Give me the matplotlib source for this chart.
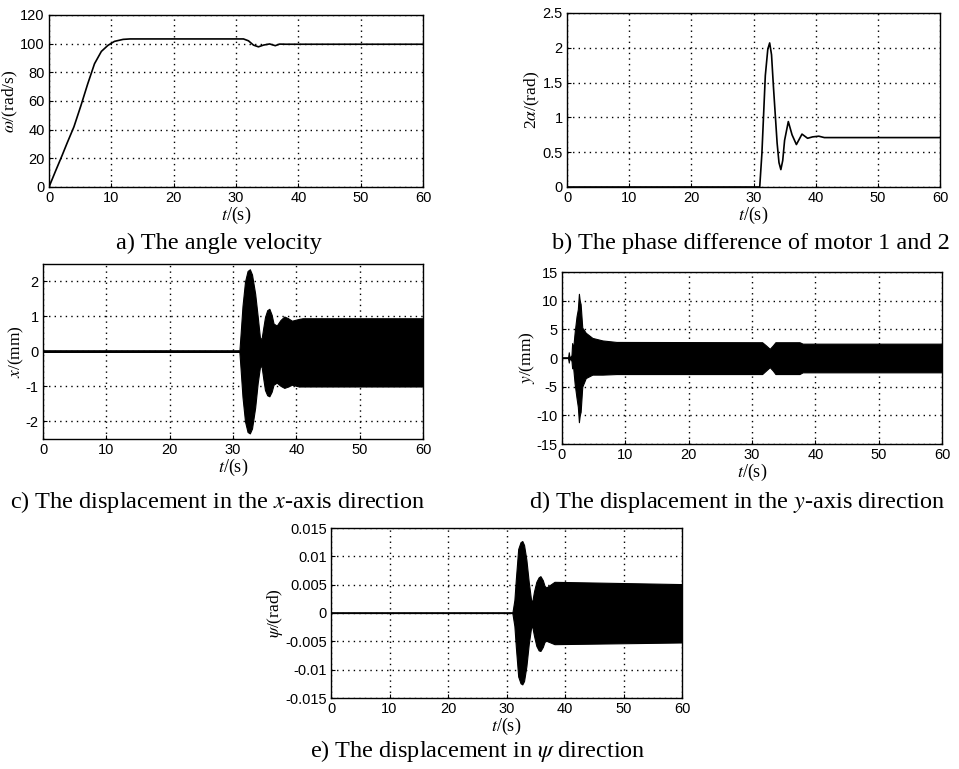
import matplotlib
matplotlib.use("Agg")
import matplotlib.pyplot as plt
from matplotlib.ticker import FormatStrFormatter

# a) angle velocity
t_omega = [0, 1.0, 2.1, 2.9, 4.0, 5.1, 6.2, 7.3, 8.4, 9.45, 10.5, 11.9, 13.0,
           31.2, 32.0, 32.8, 33.6, 34.4, 35.4, 36.3, 37.0, 38.0, 60]
omega = [0, 10.6, 22, 30.6, 42, 56.5, 71.8, 86, 94.6, 98.8, 101.6, 103, 103.3,
         103.3, 102, 99, 97.8, 99, 99.8, 98.6, 99.7, 99.6, 99.6]

# b) phase difference
t_phase = [0, 31.0, 31.35, 31.9, 32.3, 32.6, 32.9, 33.2, 33.8, 34.1, 34.4, 34.7,
           35.0, 35.6, 36.2, 36.9, 37.8, 38.7, 39.5, 40.5, 41.4, 60]
phase = [0, 0, 0.48, 1.6, 1.98, 2.07, 1.9, 1.45, 0.63, 0.35, 0.25, 0.38,
         0.67, 0.94, 0.75, 0.61, 0.76, 0.70, 0.72, 0.73, 0.71, 0.71]

# c) x displacement (envelope of the dense oscillation)
t_x = [0, 31.0, 31.2, 31.5, 31.9, 32.3, 32.66, 33.0, 33.5, 33.9, 34.25, 34.5, 34.8,
       35.05, 35.4, 35.74, 36.1, 36.4, 36.9, 37.5, 38.1, 38.7, 39.3, 40.4, 41.0, 60]
x_up = [0, 0, 0.5, 1.3, 2.0, 2.3, 2.35, 2.2, 1.65, 1.0, 0.4, 0.35, 0.7,
        0.98, 1.18, 1.22, 1.05, 0.8, 0.74, 0.9, 1.0, 0.95, 0.88, 0.93, 0.95, 0.95]
x_low = [0, 0, -0.5, -1.3, -2.0, -2.3, -2.34, -2.2, -1.6, -0.9, -0.45, -0.41, -0.8,
         -1.1, -1.25, -1.28, -1.15, -0.95, -0.89, -0.98, -1.04, -1.0, -0.95, -1.0, -1.0, -1.0]

# d) y displacement
t_y = [0, 0.95, 1.07, 1.2, 1.5, 1.6, 1.75, 2.0, 2.3, 2.5, 2.67, 2.8, 2.94, 3.2,
       3.75, 4.8, 6.4, 8.6, 31.6, 32.2, 32.8, 33.3, 33.7, 37.5, 38.0, 60]
y_up = [0, 0, 1.0, 0, 0.5, 2.6, 1.5, 4.5, 7.3, 8.5, 11.2, 10.0, 9.4, 5.3,
        4.4, 3.5, 3.06, 2.8, 2.75, 2.2, 1.6, 2.2, 2.75, 2.75, 2.5, 2.5]
y_low = [0, 0, -0.8, 0, -0.5, -1.8, -1.5, -4.5, -7.0, -8.5, -11.2, -10.0, -9.4, -5.0,
         -3.5, -2.9, -2.9, -2.8, -2.8, -2.2, -1.6, -2.2, -2.8, -2.8, -2.5, -2.5]

# e) psi displacement
t_psi = [0, 31.0, 31.35, 31.6, 32.0, 32.4, 32.7, 33.0, 33.4, 33.8, 34.2, 34.4, 34.7,
         35.1, 35.5, 35.8, 36.2, 36.5, 36.8, 37.5, 38.2, 60]
psi_up = [0, 0, 0.0023, 0.006, 0.0113, 0.0125, 0.0127, 0.012, 0.0094, 0.0055, 0.0023,
          0.002, 0.0038, 0.0055, 0.0063, 0.0065, 0.0058, 0.0048, 0.0045, 0.005, 0.0055, 0.0051]
psi_low = [0, 0, -0.0023, -0.006, -0.0112, -0.0124, -0.0126, -0.012, -0.0094, -0.0055, -0.0026,
           -0.0024, -0.004, -0.0058, -0.0066, -0.0067, -0.006, -0.0051, -0.0049, -0.0052, -0.0055, -0.0052]

plt.rcParams["font.family"] = ["Liberation Sans", "DejaVu Sans"]
plt.rcParams["mathtext.fontset"] = "stix"
plt.rcParams["axes.unicode_minus"] = False

W, H = 959, 769
fig = plt.figure(figsize=(W / 100, H / 100), dpi=100)


def make_axes(left, right, top, bottom):
    return fig.add_axes([left / W, 1 - bottom / H, (right - left) / W, (bottom - top) / H])


def style(ax, ylim, yticks, ylabel, fmt="%g"):
    ax.set_xlim(0, 60)
    ax.set_xticks(range(0, 61, 10))
    ax.set_ylim(*ylim)
    ax.set_yticks(yticks)
    ax.yaxis.set_major_formatter(FormatStrFormatter(fmt))
    ax.grid(True, color="k", linestyle=(0, (1, 3)), linewidth=1.0)
    ax.set_axisbelow(True)
    ax.tick_params(direction="in", length=3, labelsize=10.5, pad=3)
    for s in ax.spines.values():
        s.set_linewidth(1.0)
    ax.set_xlabel("$t$/(s)", fontsize=13, family="Liberation Serif", labelpad=0)
    ax.set_ylabel(ylabel, fontsize=12.5, family="Liberation Serif", labelpad=0)


def caption(x, y, text):
    fig.text(x / W, 1 - y / H, text, ha="center", va="center",
             fontsize=17.5, family="Liberation Serif")


# a
ax = make_axes(49, 423, 15, 187)
ax.plot(t_omega, omega, color="k", lw=1.2)
style(ax, (0, 120), range(0, 121, 20), r"$\omega$/(rad/s)")
caption(219, 243, "a) The angle velocity")

# b
ax = make_axes(567, 940, 13, 187)
ax.plot(t_phase, phase, color="k", lw=1.2)
style(ax, (0, 2.5), [0, 0.5, 1, 1.5, 2, 2.5], r"2$\alpha$/(rad)")
caption(751, 243, "b) The phase difference of motor 1 and 2")

# c
ax = make_axes(43, 423, 264, 439)
ax.plot([0, 31.0], [0, 0], color="k", lw=1.2)
ax.fill_between(t_x, x_low, x_up, color="k", lw=0.8, edgecolor="k")
style(ax, (-2.5, 2.5), range(-2, 3), "$x$/(mm)")
caption(218, 502, "c) The displacement in the $x$-axis direction")

# d
ax = make_axes(562, 942, 272, 444)
ax.plot([0, 1.6], [0, 0], color="k", lw=1.2)
ax.fill_between(t_y, y_low, y_up, color="k", lw=0.8, edgecolor="k")
style(ax, (-15, 15), range(-15, 16, 5), "$y$/(mm)")
caption(737, 502, "d) The displacement in the $y$-axis direction")

# e
ax = make_axes(331, 682, 528, 698)
ax.plot([0, 31.3], [0, 0], color="k", lw=1.2)
ax.fill_between(t_psi, psi_low, psi_up, color="k", lw=0.8, edgecolor="k")
style(ax, (-0.015, 0.015), [-0.015, -0.01, -0.005, 0, 0.005, 0.01, 0.015], r"$\psi$/(rad)")
caption(478, 751, r"e) The displacement in $\psi$ direction")

fig.savefig("out.png", dpi=100)
